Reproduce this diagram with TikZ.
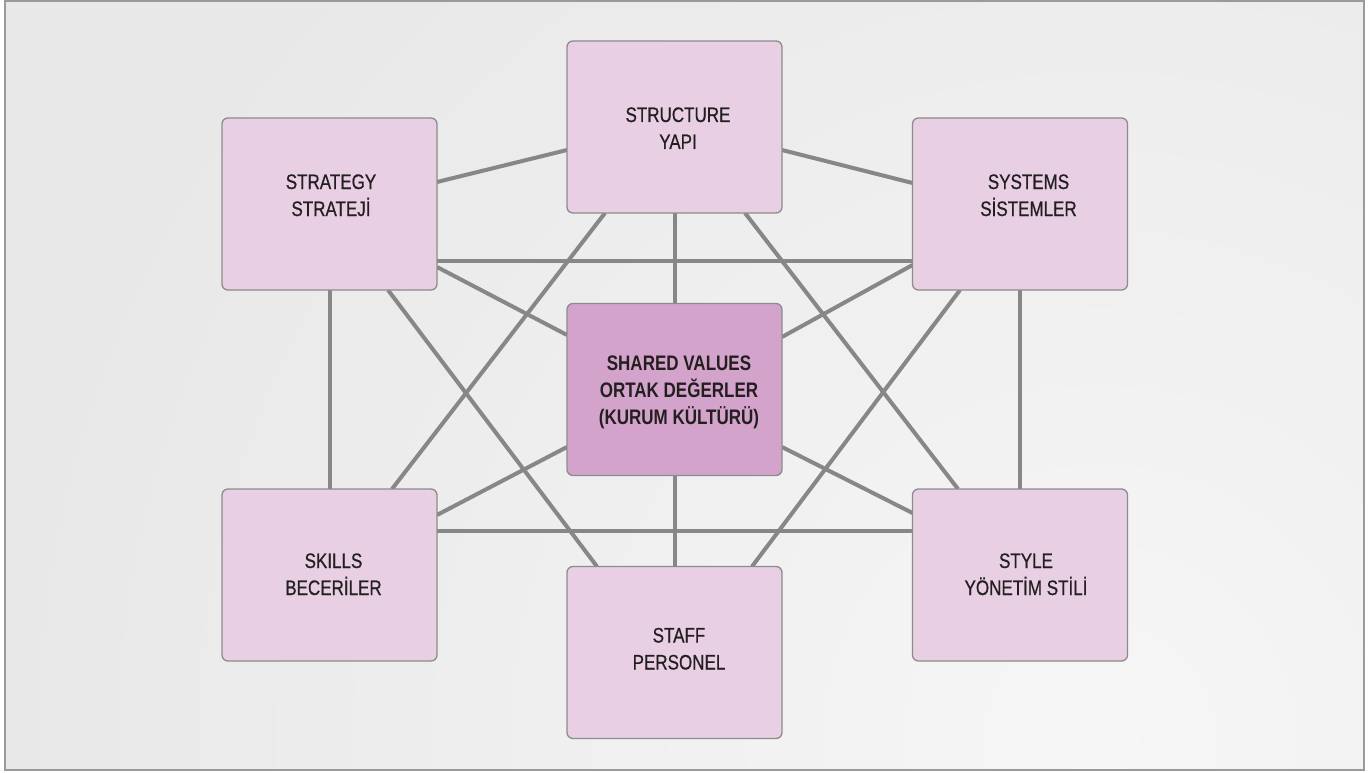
\documentclass[tikz,border=0pt]{standalone}
\usepackage{fontspec}
\newfontfamily\boxfont{Liberation Sans}[FakeStretch=0.81, UprightFeatures={FakeBold=0.6}]
% two or three centred lines with a fixed top height and bottom depth
\newcommand\boxtext[1]{\rule{0pt}{16pt}#1\rule[-5pt]{0pt}{5pt}}
\definecolor{bgbase}{HTML}{E8E8E8}
\definecolor{bglight}{HTML}{F6F6F6}
\definecolor{framegray}{HTML}{9A9A9A}
\definecolor{boxfill}{HTML}{E8CFE4}
\definecolor{corefill}{HTML}{D4A3CB}
\definecolor{boxline}{HTML}{8C8C8C}
\definecolor{linkgray}{HTML}{878787}
\definecolor{ink}{HTML}{231F20}
\pgfdeclarelayer{bg}
\pgfdeclarelayer{links}
\pgfsetlayers{bg,links,main}
\begin{document}
\begin{tikzpicture}[x=1pt,y=-1pt,
  box/.style={draw=boxline, line width=1.3pt, fill=boxfill, rounded corners=6pt,
    minimum width=215pt, minimum height=172pt, inner sep=0pt, outer sep=0pt},
  core/.style={box, fill=corefill},
  lbl/.style={font=\boxfont\fontsize{21}{27}\selectfont, text=ink, align=center, inner sep=0pt},
  link/.style={draw=linkgray, line width=4pt}]

\useasboundingbox (0,0) rectangle (1370,773);

% canvas with a soft light patch towards the lower right
\begin{pgfonlayer}{bg}
  \fill[white] (0,0) rectangle (1370,773);
  \fill[bgbase] (4.5,1) rectangle (1363.5,770);
  \begin{scope}
    \clip (4.5,1) rectangle (1363.5,770);
    \shade[inner color=bglight, outer color=bgbase] (1100,740) circle (1100);
  \end{scope}
  \draw[framegray, line width=2pt] (4.5,1) rectangle (1363.5,770);
\end{pgfonlayer}

% the seven elements
\node[box]  (struct) at (674.5,127)   {};
\node[box]  (strat)  at (329.5,204)   {};
\node[box]  (syst)   at (1020,204)    {};
\node[core] (shared) at (674.5,389.5) {};
\node[box]  (skills) at (329.5,575)   {};
\node[box]  (style)  at (1020,575)    {};
\node[box]  (staff)  at (674.5,652.5) {};

\node[lbl] (struct-t) at ([shift={(3.5,3)}]struct)  {\boxtext{STRUCTURE\\YAPI}};
\node[lbl] (strat-t)  at ([shift={(1.5,-7)}]strat)  {\boxtext{STRATEGY\\STRATEJİ}};
\node[lbl] (syst-t)   at ([shift={(8.5,-7)}]syst)   {\boxtext{SYSTEMS\\SİSTEMLER}};
\node[lbl, font=\boxfont\bfseries\fontsize{21}{27}\selectfont]
           (shared-t) at ([shift={(4.5,2.5)}]shared) {\boxtext{SHARED VALUES\\ORTAK DEĞERLER\\(KURUM KÜLTÜRÜ)}};
\node[lbl] (skills-t) at ([shift={(4,1)}]skills)    {\boxtext{SKILLS\\BECERİLER}};
\node[lbl] (style-t)  at ([shift={(6,1)}]style)     {\boxtext{STYLE\\YÖNETİM STİLİ}};
\node[lbl] (staff-t)  at ([shift={(4.5,-2)}]staff)  {\boxtext{STAFF\\PERSONEL}};

% every element linked with every other
\begin{pgfonlayer}{links}
  \draw[link] ([yshift=22pt]strat.east)   -- ([yshift=-23pt]struct.west);
  \draw[link] ([yshift=-23pt]struct.east) -- ([yshift=21pt]syst.west);
  \draw[link] (struct.south) -- (shared.north);
  \draw[link] ([xshift=-69.5pt]struct.south) -- ([xshift=62.5pt]skills.north);
  \draw[link] ([xshift=70.5pt]struct.south)  -- ([xshift=-62pt]style.north);
  \draw[link] ([yshift=-57pt]strat.east) -- ([yshift=-57pt]syst.west);
  \draw[link] (strat.south) -- (skills.north);
  \draw[link] ([yshift=-63pt]strat.east) -- ([yshift=54.5pt]shared.west);
  \draw[link] ([xshift=58.5pt]strat.south) -- ([xshift=-77.5pt]staff.north);
  \draw[link] ([yshift=-61pt]syst.west) -- ([yshift=52.5pt]shared.east);
  \draw[link] (syst.south) -- (style.north);
  \draw[link] ([xshift=-60pt]syst.south) -- ([xshift=77.5pt]staff.north);
  \draw[link] ([yshift=60pt]skills.east) -- ([yshift=-57.5pt]shared.west);
  \draw[link] ([yshift=62pt]style.west)  -- ([yshift=-57.5pt]shared.east);
  \draw[link] ([yshift=44pt]skills.east) -- ([yshift=44pt]style.west);
  \draw[link] (shared.south) -- (staff.north);
\end{pgfonlayer}
\end{tikzpicture}
\end{document}
